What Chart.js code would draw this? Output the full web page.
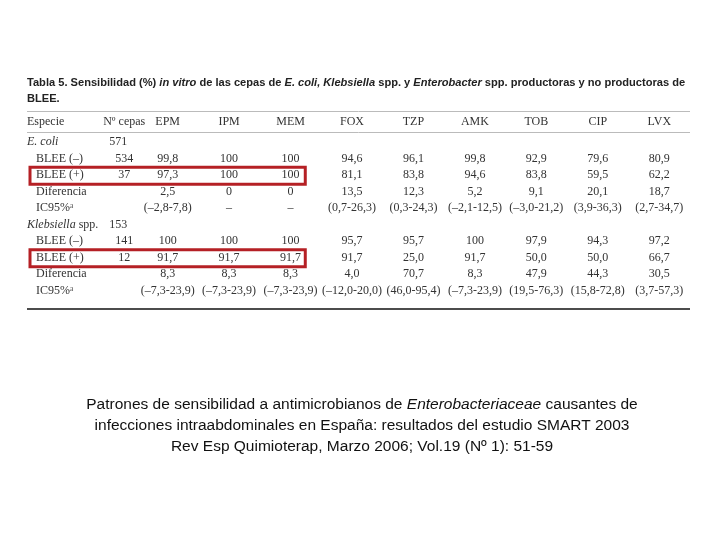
<!DOCTYPE html><html><head><meta charset="utf-8">
<script src="https://cdn.jsdelivr.net/npm/chart.js@4"></script>
<style>html,body{margin:0;background:#fff}canvas{display:block}</style></head><body>
<div style="width:720px;height:540px"><canvas id="c"></canvas></div>
<script>
const columns = ['Especie','Nº cepas','EPM','IPM','MEM','FOX','TZP','AMK','TOB','CIP','LVX'];
const rowKeys = ['r0','r1','r2','r3','r4','r5','r6','r7','r8','r9'];
const rowLabels = ['E. coli','BLEE (–)','BLEE (+)','Diferencia','IC95%ᵃ','Klebsiella spp.','BLEE (–)','BLEE (+)','Diferencia','IC95%ᵃ'];
const cepas = ['571','534','37','','','153','141','12','',''];
const ecoliNeg = ['99,8','100','100','94,6','96,1','99,8','92,9','79,6','80,9'];
const ecoliPos = ['97,3','100','100','81,1','83,8','94,6','83,8','59,5','62,2'];
const ecoliDif = ['2,5','0','0','13,5','12,3','5,2','9,1','20,1','18,7'];
const ecoliIC = ['(–2,8-7,8)','–','–','(0,7-26,3)','(0,3-24,3)','(–2,1-12,5)','(–3,0-21,2)','(3,9-36,3)','(2,7-34,7)'];
const klebNeg = ['100','100','100','95,7','95,7','100','97,9','94,3','97,2'];
const klebPos = ['91,7','91,7','91,7','91,7','25,0','91,7','50,0','50,0','66,7'];
const klebDif = ['8,3','8,3','8,3','4,0','70,7','8,3','47,9','44,3','30,5'];
const klebIC = ['(–7,3-23,9)','(–7,3-23,9)','(–7,3-23,9)','(–12,0-20,0)','(46,0-95,4)','(–7,3-23,9)','(19,5-76,3)','(15,8-72,8)','(3,7-57,3)'];
const drugValues = [null,ecoliNeg,ecoliPos,ecoliDif,ecoliIC,null,klebNeg,klebPos,klebDif,klebIC];
const highlightRows = ['r2','r7'];

function rich(ctx, segs, x, y, size){
  let cx=x;
  for(const [t,st] of segs){ctx.font=st+' '+size+'px "Liberation Sans", Arial, sans-serif';ctx.fillText(t,cx,y);cx+=ctx.measureText(t).width;}
}
const tablePlugin = {
  id:'table',
  afterDraw(chart){
    const ctx=chart.ctx, xs=chart.scales.x, ys=chart.scales.y;
    ctx.save();
    ctx.fillStyle='#222';ctx.textBaseline='middle';ctx.textAlign='left';
    rich(ctx,[['Tabla 5. Sensibilidad (%) ','bold'],['in vitro','italic bold'],[' de las cepas de ','bold'],['E. coli, Klebsiella','italic bold'],[' spp. y ','bold'],['Enterobacter','italic bold'],[' spp. productoras y no productoras de','bold']],27,83,11.1);
    rich(ctx,[['BLEE.','bold']],27,99,11.1);
    ctx.strokeStyle='#bbb';ctx.lineWidth=1;
    ctx.beginPath();ctx.moveTo(27,111.5);ctx.lineTo(690,111.5);ctx.moveTo(27,132.5);ctx.lineTo(690,132.5);ctx.stroke();
    ctx.strokeStyle='#111';ctx.lineWidth=1.5;
    ctx.beginPath();ctx.moveTo(27,309);ctx.lineTo(690,309);ctx.stroke();
    const serif='"Liberation Serif","Times New Roman",serif';
    const fs='12px ';
    ctx.fillStyle='#333';
    ctx.font=fs+serif;
    columns.forEach((c,i)=>{
      if(i===0){ctx.textAlign='left';ctx.fillText(c,27,122);return;}
      ctx.textAlign='center';
      ctx.fillText(c,xs.getPixelForValue(i)+(i===1?18:0),122);
    });
    rowKeys.forEach((k,r)=>{
      const y=ys.getPixelForValue(r);
      const group=(r===0||r===5);
      ctx.textAlign='left';
      if(group){
        if(r===0){ctx.font='italic '+fs+serif;ctx.fillText(rowLabels[r],27,y);}
        else{ctx.font='italic '+fs+serif;ctx.fillText('Klebsiella',27,y);const w=ctx.measureText('Klebsiella ').width;ctx.font=fs+serif;ctx.fillText('spp.',27+w,y);}
      } else {ctx.font=fs+serif;ctx.fillText(rowLabels[r],36,y);}
      ctx.font=fs+serif;ctx.textAlign='center';
      if(cepas[r])ctx.fillText(cepas[r],xs.getPixelForValue(1)+(group?12:18),y);
      const vals=drugValues[r];
      if(vals)vals.forEach((v,j)=>ctx.fillText(v,xs.getPixelForValue(j+2),y));
    });
    ctx.strokeStyle='#b52025';ctx.lineWidth=3;
    highlightRows.forEach(k=>{
      const y=ys.getPixelForValue(rowKeys.indexOf(k));
      const x1=30, x2=xs.getPixelForValue(4)+ (xs.getPixelForValue(5)-xs.getPixelForValue(4))/2 - 16;
      ctx.strokeRect(x1,y-8,x2-x1,17);
    });
    ctx.fillStyle='#111';ctx.textAlign='left';
    const cap=[[['Patrones de sensibilidad a antimicrobianos de ',''],['Enterobacteriaceae','italic'],[' causantes de','']],
      [['infecciones intraabdominales en España: resultados del estudio SMART 2003','']],
      [['Rev Esp Quimioterap, Marzo 2006; Vol.19 (Nº 1): 51-59','']]];
    cap.forEach((segs,i)=>{
      let w=0;segs.forEach(([t,st])=>{ctx.font=st+' 15.5px "Liberation Sans", Arial, sans-serif';w+=ctx.measureText(t).width;});
      rich(ctx,segs,362-w/2,405+i*21,15.5);
    });
    ctx.restore();
  }
};
new Chart(document.getElementById('c'),{
  type:'scatter',
  data:{datasets:[{data:[],pointRadius:0}]},
  options:{responsive:true,maintainAspectRatio:false,animation:false,
    layout:{padding:{left:14,right:30,top:134,bottom:241}},
    plugins:{legend:{display:false},tooltip:{enabled:false}},
    scales:{
      x:{type:'category',labels:columns,offset:true,display:false},
      y:{type:'category',labels:rowKeys,offset:true,display:false}
    }},
  plugins:[tablePlugin]
});
</script></body></html>
